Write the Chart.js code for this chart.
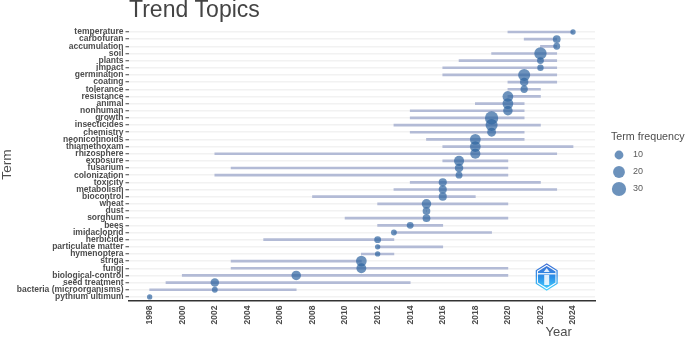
<!DOCTYPE html>
<html>
<head>
<meta charset="utf-8">
<title>Trend Topics</title>
<script src="https://cdn.jsdelivr.net/npm/chart.js@4"></script>
<style>
  html, body { margin: 0; padding: 0; background: #fff; }
  #wrap { width: 685px; height: 338px; }
</style>
</head>
<body>
<div id="wrap"><canvas id="chart" width="685" height="338"></canvas></div>
<script>
const terms = ['temperature', 'carbofuran', 'accumulation', 'soil', 'plants', 'impact', 'germination', 'coating',
    'tolerance', 'resistance', 'animal', 'nonhuman', 'growth', 'insecticides', 'chemistry', 'neonicotinoids',
    'thiamethoxam', 'rhizosphere', 'exposure', 'fusarium', 'colonization', 'toxicity', 'metabolism', 'biocontrol',
    'wheat', 'dust', 'sorghum', 'bees', 'imidacloprid', 'herbicide', 'particulate matter', 'hymenoptera', 'striga',
    'fungi', 'biological-control', 'seed treatment', 'bacteria (microorganisms)', 'pythium ultimum'];
const startYears = [2020, 2021, 2022, 2019, 2017, 2016, 2016, 2020, 2020, 2020, 2018, 2014, 2014, 2013, 2014, 2015,
    2016, 2002, 2016, 2003, 2002, 2014, 2013, 2008, 2012, 2015, 2010, 2012, 2013, 2005, 2012, 2011, 2003,
    2003, 2000, 1999, 1998, 1998];
const medianYears = [2024, 2023, 2023, 2022, 2022, 2022, 2021, 2021, 2021, 2020, 2020, 2020, 2019, 2019, 2019, 2018,
    2018, 2018, 2017, 2017, 2017, 2016, 2016, 2016, 2015, 2015, 2015, 2014, 2013, 2012, 2012, 2012, 2011,
    2011, 2007, 2002, 2002, 1998];
const endYears = [2024, 2023, 2023, 2023, 2023, 2023, 2023, 2023, 2022, 2022, 2021, 2021, 2021, 2022, 2021, 2021,
    2024, 2023, 2020, 2020, 2020, 2022, 2023, 2018, 2020, 2015, 2020, 2016, 2019, 2013, 2016, 2013, 2011,
    2020, 2020, 2014, 2007, 1998];
const frequencies = [2, 7, 5, 22, 5, 4, 21, 9, 6, 16, 16, 12, 26, 21, 10, 16,
    16, 14, 14, 9, 5, 8, 8, 8, 12, 7, 7, 5, 3, 5, 2, 2, 16,
    13, 12, 9, 3, 2];
const legendSizes = [10, 20, 30];

const pointColor = 'rgba(46, 100, 160, 0.7)';
const textColor = '#4d4d4d';
const sans = '"Liberation Sans", Arial, sans-serif';

function sizeToRadius(f) {
    // area grows with the term frequency
    return Math.sqrt(4 + 1.55 * f);
}

const extras = {
    id: 'extras',
    afterDatasetsDraw(chart) {
        // logo, bottom right of the plot
        const ctx = chart.ctx;
        const cx = 546.7, cy = 277, R = 13;
        const hex = (r) => {
            ctx.beginPath();
            for (let i = 0; i < 6; i++) {
                let a = Math.PI / 2 + i * Math.PI / 3;
                let px = cx + r * 0.92 * Math.cos(a) * (i % 3 === 0 ? 0 : 1);
                ctx.lineTo(px, cy - r * Math.sin(a));
            }
            ctx.closePath();
        };
        const grad = ctx.createLinearGradient(0, cy - R, 0, cy + R);
        grad.addColorStop(0, '#3f6fd4');
        grad.addColorStop(0.5, '#2a8fe8');
        grad.addColorStop(1, '#45d2ff');
        ctx.save();
        hex(R);
        ctx.strokeStyle = grad;
        ctx.lineWidth = 1.2;
        ctx.stroke();
        hex(R - 2);
        ctx.fillStyle = grad;
        ctx.fill();
        ctx.fillStyle = 'rgba(255,255,255,0.85)';
        ctx.fillRect(cx - 9, cy - 4, 18, 1.5);
        ctx.fillRect(cx - 2.5, cy - 2, 5, 10);
        ctx.beginPath();
        ctx.moveTo(cx, cy - 9);
        ctx.lineTo(cx + 3, cy - 5);
        ctx.lineTo(cx - 3, cy - 5);
        ctx.closePath();
        ctx.fill();
        ctx.restore();
    },
    afterDraw(chart) {
        const ctx = chart.ctx;
        ctx.save();
        ctx.textBaseline = 'middle';
        ctx.textAlign = 'left';

        ctx.fillStyle = textColor;
        ctx.font = '13px ' + sans;
        ctx.fillText('Year', 545.5, 332);

        ctx.font = '10.7px ' + sans;
        ctx.fillText('Term frequency', 611, 137);

        const legendY = [155, 172, 189];
        legendSizes.forEach((s, i) => {
            ctx.beginPath();
            ctx.arc(619, legendY[i], sizeToRadius(s), 0, Math.PI * 2);
            ctx.fillStyle = pointColor;
            ctx.fill();
            ctx.fillStyle = '#5a5a5a';
            ctx.font = '9px ' + sans;
            ctx.fillText(String(s), 633, legendY[i]);
        });
        ctx.restore();
    }
};

new Chart(document.getElementById('chart'), {
    type: 'bar',
    plugins: [extras],
    data: {
        labels: terms,
        datasets: [
            {
                type: 'scatter',
                label: 'Median year',
                data: terms.map((t, i) => ({x: medianYears[i], y: t})),
                backgroundColor: pointColor,
                borderWidth: 0,
                pointRadius: frequencies.map(sizeToRadius),
                order: 1
            },
            {
                label: 'Range',
                data: terms.map((t, i) => [startYears[i], endYears[i]]),
                backgroundColor: '#b3bbd6',
                borderWidth: 0,
                barThickness: 2,
                order: 2
            }
        ]
    },
    options: {
        indexAxis: 'y',
        responsive: false,
        animation: false,
        layout: {padding: {top: 0, right: 90, bottom: 0, left: 0}},
        plugins: {
            legend: {display: false},
            tooltip: {enabled: false},
            title: {
                display: true,
                text: 'Trend Topics',
                align: 'start',
                fullSize: false,
                color: '#444',
                font: {family: sans, size: 23, weight: 'normal', lineHeight: 0.8},
                padding: {top: 1.5, bottom: 8.5}
            }
        },
        scales: {
            x: {
                type: 'linear',
                min: 1996.73,
                max: 2025.35,
                afterFit: (s) => { s.height = 37.5; },
                border: {color: '#333', width: 1.5},
                grid: {display: false, drawTicks: true, tickColor: '#333', tickLength: 3},
                ticks: {
                    stepSize: 2,
                    includeBounds: false,
                    autoSkip: false,
                    minRotation: 90,
                    maxRotation: 90,
                    padding: 2,
                    color: textColor,
                    font: {family: sans, size: 8.5, weight: 'bold'},
                    callback: (v) => String(v)
                }
            },
            y: {
                type: 'category',
                offset: true,
                afterFit: (s) => { s.width = 129; },
                border: {display: false},
                grid: {color: '#f2f2f2', lineWidth: 1.5, offset: false, tickColor: '#444', tickLength: 3.5, tickWidth: 1},
                title: {
                    display: true,
                    text: 'Term',
                    color: textColor,
                    font: {family: sans, size: 13.7, weight: 'normal', lineHeight: 1},
                    padding: 0
                },
                ticks: {
                    autoSkip: false,
                    padding: 2,
                    color: textColor,
                    font: {family: sans, size: 8.5, weight: 'bold'}
                }
            }
        }
    }
});
</script>
</body>
</html>
